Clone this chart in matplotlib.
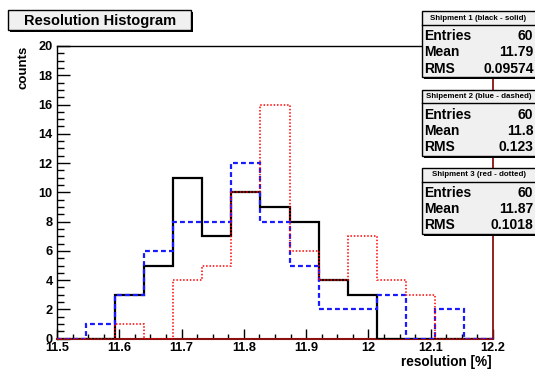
import numpy as np
import matplotlib
matplotlib.use('Agg')
import matplotlib.pyplot as plt
from matplotlib.patches import Rectangle
from matplotlib.ticker import MultipleLocator

W, H = 535, 371

bin_lo, bin_hi, n_bins = 11.5, 12.2, 15
counts1 = [0, 0, 3, 5, 11, 7, 10, 9, 8, 4, 3, 0, 0, 0, 0]
counts2 = [0, 1, 3, 6, 8, 8, 12, 8, 5, 2, 2, 3, 0, 2, 0]
counts3 = [0, 0, 1, 0, 4, 5, 10, 16, 6, 4, 7, 4, 3, 0, 0]

box_titles = ['Shipment 1 (black - solid)', 'Shipement 2 (blue - dashed)', 'Shipment 3 (red - dotted)']
entries = ['60', '60', '60']
means = ['11.79', '11.8', '11.87']
rmss = ['0.09574', '0.123', '0.1018']

FONT = 'Liberation Sans'
DARKRED = '#8b1010'


def px(x, y):
    # pixel coords (top-left origin) -> figure fraction
    return x / W, 1 - y / H


def pave(fig, x0, y0, x1, y1, shadow=2):
    a = px(x0 + shadow, y1 + shadow)
    fig.add_artist(Rectangle(a, (x1 - x0) / W, (y1 - y0) / H, transform=fig.transFigure,
                             facecolor='black', edgecolor='black', lw=0, zorder=5))
    a = px(x0, y1)
    fig.add_artist(Rectangle(a, (x1 - x0) / W, (y1 - y0) / H, transform=fig.transFigure,
                             facecolor='#f0f0f0', edgecolor='black', lw=1, zorder=6))


fig = plt.figure(figsize=(W / 100, H / 100), dpi=100)
ax = fig.add_axes([57 / W, 1 - 338.7 / H, (493 - 57) / W, (338.7 - 46) / H])

edges = np.linspace(bin_lo, bin_hi, n_bins + 1)
ax.stairs(counts1, edges, color='black', lw=1.6, zorder=3)
ax.stairs(counts2, edges, color='#1a1aff', lw=1.6, ls=(0, (2.2, 1.4)), zorder=4)
ax.stairs(counts3, edges, color='red', lw=1.1, ls=(0, (1, 1.2)), zorder=5)

ax.set_xlim(bin_lo, bin_hi)
ax.set_ylim(0, 20)
ax.xaxis.set_major_locator(MultipleLocator(0.1))
ax.xaxis.set_minor_locator(MultipleLocator(0.025))
ax.yaxis.set_major_locator(MultipleLocator(2))
ax.yaxis.set_minor_locator(MultipleLocator(0.5))
ax.set_xticks(np.arange(11.5, 12.21, 0.1))
ax.set_xticklabels(['11.5', '11.6', '11.7', '11.8', '11.9', '12', '12.1', '12.2'])
ax.tick_params(axis='both', which='both', direction='in', top=False, right=False)
ax.tick_params(axis='y', which='major', length=9.5, width=1, pad=3)
ax.tick_params(axis='y', which='minor', length=4.8, width=1)
ax.tick_params(axis='x', which='major', length=7, width=1, pad=2.5)
ax.tick_params(axis='x', which='minor', length=3.5, width=1)
for lab in ax.get_xticklabels() + ax.get_yticklabels():
    lab.set_fontfamily(FONT)
    lab.set_fontweight('bold')
    lab.set_fontsize(9.2)

ax.spines['bottom'].set_color(DARKRED)
ax.spines['bottom'].set_linewidth(1.5)
ax.spines['right'].set_color(DARKRED)
ax.spines['right'].set_linewidth(1.3)
ax.spines['left'].set_linewidth(1)
ax.spines['top'].set_linewidth(1)

fig.text(*px(24, 46), 'counts', rotation=90, ha='center', va='top',
         fontfamily=FONT, fontweight='bold', fontsize=9.5)
fig.text(*px(492, 362), 'resolution [%]', ha='right', va='center',
         fontfamily=FONT, fontweight='bold', fontsize=9.8)

# title pave
pave(fig, 7.5, 10, 191, 30)
fig.text(*px(100, 20.5), 'Resolution Histogram', ha='center', va='center', zorder=7,
         fontfamily=FONT, fontweight='bold', fontsize=10.5)

# stat boxes
tops = [10.7, 89.5, 167.5]
for i in range(3):
    t = tops[i]
    pave(fig, 421.7, t, 545, t + 66.5)
    fig.add_artist(plt.Line2D([421.7 / W, 1], [1 - (t + 14) / H] * 2, transform=fig.transFigure,
                              color='black', lw=1, zorder=7))
    fig.text(*px(478.5, t + 7.3), box_titles[i], ha='center', va='center', zorder=7,
             fontfamily=FONT, fontweight='bold', fontsize=5.7)
    rows = [('Entries', entries[i]), ('Mean', means[i]), ('RMS', rmss[i])]
    for j, (k, v) in enumerate(rows):
        yy = t + 25.5 + j * 16.2
        fig.text(*px(424.5, yy), k, ha='left', va='center', zorder=7,
                 fontfamily=FONT, fontweight='bold', fontsize=10)
        fig.text(*px(533.5, yy), v, ha='right', va='center', zorder=7,
                 fontfamily=FONT, fontweight='bold', fontsize=10)

fig.savefig('out.png', dpi=100)
